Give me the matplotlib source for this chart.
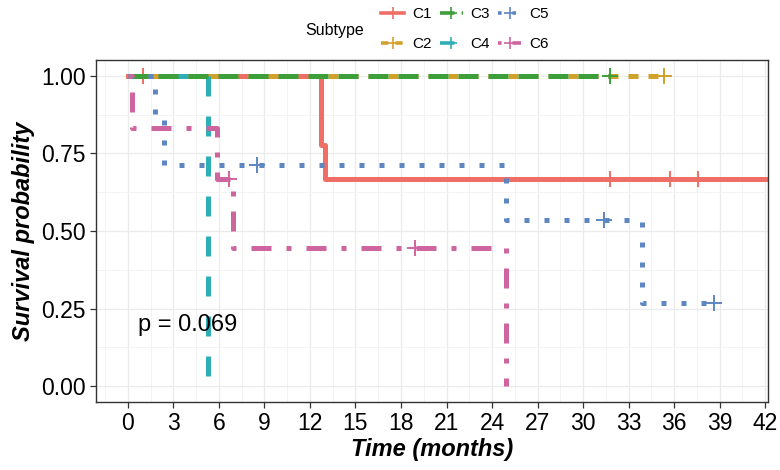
from matplotlib import pyplot as plt
from matplotlib.lines import Line2D
from matplotlib.ticker import MultipleLocator

# Kaplan-Meier curves (time in months, survival)
subtypes = ['C1', 'C2', 'C3', 'C4', 'C5', 'C6']
colors = ['#EF6F66', '#D1A229', '#3C9F3A', '#2EAFB6', '#5D86C3', '#CE659E']
styles = ['-', (0, (2, 2)), (0, (4, 2)), (0, (4, 4)), (0, (1, 3)), (0, (1, 3, 4, 3))]

times = {
    'C1': [0, 12.7, 13.0, 42.5],
    'C2': [0, 35.3],
    'C3': [0, 31.8],
    'C4': [0, 5.3],
    'C5': [0, 1.8, 2.4, 24.9, 33.9, 38.6],
    'C6': [0, 0.25, 5.9, 6.9, 24.9],
}
surv = {
    'C1': [1.0, 0.778, 0.667, 0.667],
    'C2': [1.0, 1.0],
    'C3': [1.0, 1.0],
    'C4': [1.0, 0.0],
    'C5': [1.0, 0.857, 0.714, 0.536, 0.268, 0.268],
    'C6': [1.0, 0.833, 0.667, 0.444, 0.0],
}
# censored observations
cens_t = {
    'C1': [1.0, 31.8, 35.7, 37.6],
    'C2': [35.3],
    'C3': [31.8],
    'C4': [],
    'C5': [8.5, 31.4, 38.6],
    'C6': [6.7, 18.9],
}
cens_s = {
    'C1': [1.0, 0.667, 0.667, 0.667],
    'C2': [1.0],
    'C3': [1.0],
    'C4': [],
    'C5': [0.714, 0.536, 0.268],
    'C6': [0.667, 0.444],
}
pval = 'p = 0.069'

plt.rcParams['font.family'] = ['Liberation Sans', 'DejaVu Sans']

fig = plt.figure(figsize=(7.8, 4.7), dpi=100)
ax = fig.add_axes([0.123, 0.145, 0.861, 0.727])

zord = [2, 3, 5, 4, 6, 7]
for i, g in enumerate(subtypes):
    ax.plot(times[g], surv[g], drawstyle='steps-post', color=colors[i],
            linestyle=styles[i], lw=3.6, zorder=zord[i])
    if cens_t[g]:
        ax.plot(cens_t[g], cens_s[g], ls='none', marker='+', ms=11, mew=1.4,
                color=colors[i], zorder=zord[i])

ax.text(0.7, 0.196, pval, fontsize=17, ha='left', va='center', zorder=10)

ax.set_xlim(-2.1, 42.15)
ax.set_ylim(-0.05, 1.05)
ax.xaxis.set_major_locator(MultipleLocator(3))
ax.xaxis.set_minor_locator(MultipleLocator(1.5))
ax.yaxis.set_minor_locator(MultipleLocator(0.125))
ax.set_yticks([0, 0.25, 0.5, 0.75, 1.0])
ax.set_yticklabels(['0.00', '0.25', '0.50', '0.75', '1.00'])
ax.grid(True, which='major', color='#EBEBEB', lw=0.9)
ax.grid(True, which='minor', color='#F3F3F3', lw=0.7)
ax.set_axisbelow(True)
ax.tick_params(which='major', length=4, width=0.9, color='#333333', labelsize=16.5,
               labelcolor='black')
ax.tick_params(which='minor', length=0)
for s in ax.spines.values():
    s.set_color('#333333')
    s.set_linewidth(1.0)

ax.set_xlabel('Time (months)', fontsize=17, fontweight='bold', fontstyle='italic', labelpad=2)
ax.set_ylabel('Survival probability', fontsize=17, fontweight='bold', fontstyle='italic', labelpad=4)

# legend on top
handles = [Line2D([], [], color=colors[i], linestyle=styles[i], lw=2.6,
                  marker='+', ms=8, mew=1.2) for i in range(len(subtypes))]
fig.text(0.391, 0.936, 'Subtype', fontsize=11.5, ha='left', va='center')
fig.legend(handles, subtypes, loc='center left', bbox_to_anchor=(0.489, 0.938),
           ncol=3, frameon=False, fontsize=11, handlelength=1.5, handletextpad=0.5,
           columnspacing=0.55, labelspacing=1.05, borderpad=0, borderaxespad=0)

fig.savefig('out.png', dpi=100)
